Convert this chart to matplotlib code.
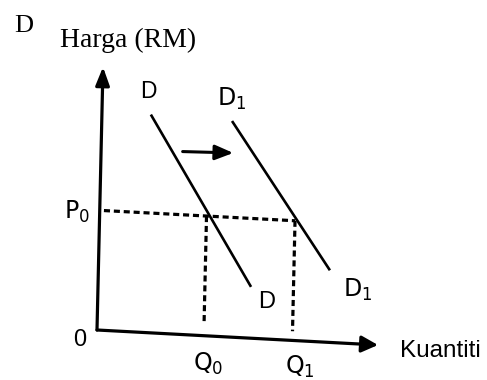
import matplotlib
matplotlib.use('Agg')
import matplotlib.pyplot as plt
from matplotlib.transforms import Affine2D

# demand diagram, quantity (Q) vs price (P), both on a 0-100 scale
axis_max = 100
demand_D_q = [17.4, 54.4]
demand_D_p = [82.9, 19.5]
demand_D1_q = [46.3, 82.3]
demand_D1_p = [82.1, 27.4]
p0 = 45.5
q0 = 38.0
q1 = 69.5
guide_floor = 5.0
shift_q = [29.0, 47.0]
shift_p = [69.5, 70.0]

plt.rcParams['mathtext.fontset'] = 'custom'
plt.rcParams['mathtext.rm'] = 'Liberation Sans'
plt.rcParams['mathtext.it'] = 'Liberation Sans'

fig = plt.figure(figsize=(4.87, 3.80), dpi=100)
ax = fig.add_axes([0, 0, 1, 1])
ax.set_xlim(0, 487)
ax.set_ylim(380, 0)
ax.axis('off')

# the scanned page is slightly skewed, so map (Q, P) through a small shear
tr = Affine2D().from_values(2.81, 0.15, 0.06, -2.63, 97, 330) + ax.transData

sans = 'Liberation Sans'
serif = 'Liberation Serif'

# axes with arrow heads
ax.annotate('', xy=(0, axis_max), xytext=(0, 0), xycoords=tr, textcoords=tr,
            arrowprops=dict(arrowstyle='-|>,head_length=1.1,head_width=0.42', lw=2.3,
                            color='black', shrinkA=0, shrinkB=0, mutation_scale=10))
ax.annotate('', xy=(axis_max, 0), xytext=(0, 0), xycoords=tr, textcoords=tr,
            arrowprops=dict(arrowstyle='-|>,head_length=1.0,head_width=0.5', lw=2.3,
                            color='black', shrinkA=0, shrinkB=0, mutation_scale=10))

# demand curves
ax.plot(demand_D_q, demand_D_p, color='black', lw=1.9, transform=tr, solid_capstyle='butt')
ax.plot(demand_D1_q, demand_D1_p, color='black', lw=1.9, transform=tr, solid_capstyle='butt')

# dashed guides
dash = (0, (1.9, 1.2))
ax.plot([1.5, q1], [p0, p0], color='black', lw=2.3, ls=dash, transform=tr)
ax.plot([q0, q0], [p0, guide_floor], color='black', lw=2.3, ls=dash, transform=tr)
ax.plot([q1, q1], [p0, guide_floor - 1.5], color='black', lw=2.3, ls=dash, transform=tr)

# shift arrow
ax.annotate('', xy=(shift_q[1], shift_p[1]), xytext=(shift_q[0], shift_p[0]),
            xycoords=tr, textcoords=tr,
            arrowprops=dict(arrowstyle='-|>,head_length=1.1,head_width=0.45', lw=2.2,
                            color='black', shrinkA=0, shrinkB=0, mutation_scale=10))

# labels
ax.text(24, 26, 'D', fontsize=19, family=serif, ha='center', va='center')
ax.text(-15.5, 109.3, 'Harga (RM)', fontsize=20, family=serif, ha='left', va='center', transform=tr)
ax.text(16.2, 91.5, 'D', fontsize=16.5, family=sans, ha='center', va='center', transform=tr)
ax.text(46.1, 90.4, r'$\mathregular{D_1}$', fontsize=17, ha='center', va='center', transform=tr)
ax.text(60.2, 14.2, 'D', fontsize=17, family=sans, ha='center', va='center', transform=tr)
ax.text(92.5, 20.4, r'$\mathregular{D_1}$', fontsize=17, ha='center', va='center', transform=tr)
ax.text(-8.1, 44.5, r'$\mathregular{P_0}$', fontsize=17, ha='center', va='center', transform=tr)
ax.text(-6.0, -4.2, '0', fontsize=17, family=sans, ha='center', va='center', transform=tr)
ax.text(39.7, -10.7, r'$\mathregular{Q_0}$', fontsize=17, ha='center', va='center', transform=tr)
ax.text(72.5, -10.0, r'$\mathregular{Q_1}$', fontsize=17, ha='center', va='center', transform=tr)
ax.text(107.9, -1.8, 'Kuantiti', fontsize=17.5, family=sans, ha='left', va='center', transform=tr)

fig.savefig('out.png', dpi=100, facecolor='white')
